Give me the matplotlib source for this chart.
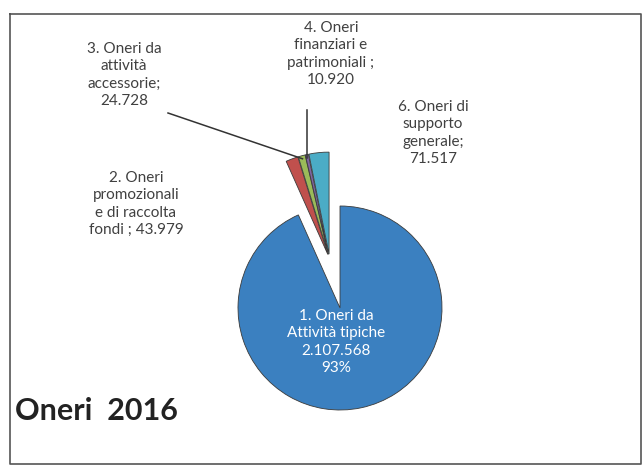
import matplotlib.pyplot as plt
import numpy as np

# Oneri 2016 - values from the chart
labels = ["1. Oneri da\nAttività tipiche", "2. Oneri\npromozionali\ne di raccolta\nfondi",
          "3. Oneri da\nattività\naccessorie", "4. Oneri\nfinanziari e\npatrimoniali",
          "6. Oneri di\nsupporto\ngenerale"]
values = [2107568, 43979, 24728, 10920, 71517]
colors = ['#3b80c0', '#c0504d', '#9bbb59', '#8064a2', '#4bacc6']


def fmt_it(v):
    # Italian thousands separator
    return f"{v:,}".replace(",", ".")


H = 468  # figure height in px, to place things by image coordinates


def Y(y):
    return H - y


plt.rcParams['font.family'] = ['Lato', 'DejaVu Sans']

fig = plt.figure(figsize=(6.44, 4.68), dpi=100)
ax = fig.add_axes([0, 0, 1, 1])

cx, cy = 340, Y(308)
wedges, _ = ax.pie(values, colors=colors, startangle=90, counterclock=False,
                   radius=102, center=(cx, cy),
                   wedgeprops=dict(edgecolor='#3a3a3a', linewidth=0.6))

# pull the small slices out together, plus a little on their own bisector
small = wedges[1:]
lo = min(w.theta1 for w in small)
hi = max(w.theta2 for w in small)
mid = np.deg2rad((lo + hi) / 2)
for w in small:
    own = np.deg2rad((w.theta1 + w.theta2) / 2)
    w.set_center((cx + 50 * np.cos(mid) + 5 * np.cos(own),
                  cy + 50 * np.sin(mid) + 5 * np.sin(own)))

ax.set_xlim(0, 644)
ax.set_ylim(0, H)
ax.set_aspect('auto')
ax.axis('off')

# frame around the chart
ax.plot([10, 641, 641, 10, 10], [Y(14), Y(14), Y(464), Y(464), Y(14)],
        color='#555555', lw=1.2, clip_on=False)

txt = dict(ha='center', va='center', fontsize=11, color='#404040', linespacing=1.3)

total = sum(values)
# label of the big slice (inside)
ax.text(336, Y(342), f"{labels[0]}\n{fmt_it(values[0])}\n{values[0] / total:.0%}",
        ha='center', va='center', fontsize=11, color='white', linespacing=1.3)

# outside labels
ax.text(136, Y(204), labels[1].replace("fondi", "fondi ; " + fmt_it(values[1])), **txt)
ax.text(124, Y(75), f"{labels[2]};\n{fmt_it(values[2])}", **txt)
ax.text(331, Y(54), f"{labels[3]} ;\n{fmt_it(values[3])}", **txt)
ax.text(433, Y(133), f"{labels[4]};\n{fmt_it(values[4])}", **txt)


def wedge_tip(w, frac=0.97):
    th = np.deg2rad((w.theta1 + w.theta2) / 2)
    return w.center[0] + frac * w.r * np.cos(th), w.center[1] + frac * w.r * np.sin(th)


# leader lines for the thin slices
x3, y3 = wedge_tip(wedges[2])
ax.plot([168, x3], [Y(113), y3], color='#333333', lw=1.1)
x4, y4 = wedge_tip(wedges[3])
ax.plot([x4, x4], [Y(110), y4], color='#333333', lw=1.1)

ax.text(15, Y(411), "Oneri  2016", fontsize=22, fontweight='bold',
        color='#222222', ha='left', va='center')

fig.savefig('out.png', dpi=100)
